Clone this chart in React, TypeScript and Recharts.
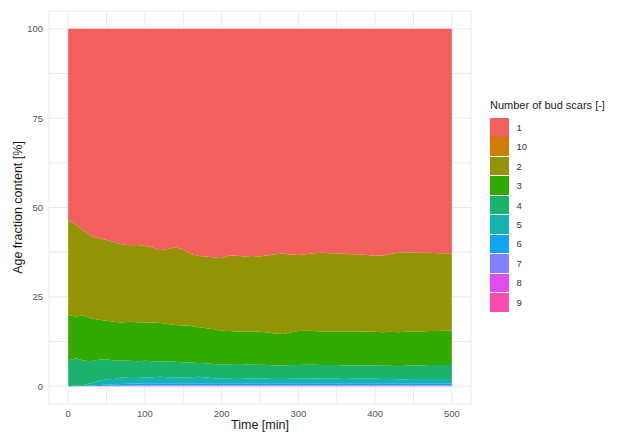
import { AreaChart, Area, XAxis, YAxis, CartesianGrid } from 'recharts';

const times = [
  0, 10, 20, 30, 40, 50, 60, 70, 80, 90, 100, 110, 120, 130, 140, 150, 160, 170, 180, 190, 200,
  210, 220, 230, 240, 250, 260, 270, 280, 290, 300, 310, 320, 330, 340, 350, 360, 370, 380, 390,
  400, 410, 420, 430, 440, 450, 460, 470, 480, 490, 500,
];

// share of cells per bud scar count [%]
const scars1 = [
  53.5, 54.8, 56.5, 58.0, 58.6, 59.1, 59.7, 60.3, 60.6, 60.5, 60.8, 61.2, 62.0, 61.6, 61.1, 61.8, 63.0,
  63.6, 63.7, 64.0, 64.18, 63.38, 63.48, 63.68, 63.58, 63.68, 63.38, 63.08, 62.88, 63.18, 63.28, 63.08,
  62.78, 62.68, 62.78, 62.88, 62.98, 63.08, 63.08, 63.28, 63.48, 63.38, 62.98, 62.68, 62.48, 62.58,
  62.68, 62.68, 62.78, 62.78, 62.78,
];
const scars10 = [
  0, 0, 0, 0, 0, 0, 0, 0, 0, 0, 0, 0, 0, 0, 0, 0, 0, 0, 0, 0, 0.02, 0.02, 0.02, 0.02, 0.02, 0.02, 0.02,
  0.02, 0.02, 0.02, 0.02, 0.02, 0.02, 0.02, 0.02, 0.02, 0.02, 0.02, 0.02, 0.02, 0.02, 0.02, 0.02, 0.02,
  0.02, 0.02, 0.02, 0.02, 0.02, 0.02, 0.02,
];
const scars2 = [
  26.6, 25.7, 23.7, 23.0, 22.8, 22.6, 22.3, 21.9, 21.4, 21.6, 21.4, 21.0, 20.3, 21.0, 21.8, 21.2, 20.2,
  19.9, 20.1, 20.1, 20.3, 21.2, 21.2, 21.1, 21.1, 21.1, 21.6, 22.2, 22.5, 21.8, 21.3, 21.4, 21.8, 22.0,
  22.0, 21.9, 21.7, 21.7, 21.6, 21.4, 21.3, 21.5, 21.8, 22.2, 22.3, 22.1, 22.0, 21.9, 21.8, 21.7, 21.7,
];
const scars3 = [
  12.7, 11.7, 12.6, 12.0, 11.2, 10.8, 10.9, 10.6, 10.9, 10.9, 10.7, 10.8, 10.8, 10.5, 10.3, 10.4, 10.2,
  10.0, 9.8, 9.7, 9.5, 9.3, 9.1, 9.1, 9.3, 9.2, 9.1, 8.9, 8.8, 9.1, 9.5, 9.5, 9.4, 9.4, 9.3, 9.3, 9.5,
  9.4, 9.5, 9.5, 9.4, 9.4, 9.5, 9.5, 9.5, 9.5, 9.5, 9.5, 9.5, 9.6, 9.6,
];
const scars4 = [
  7.2, 7.7, 6.9, 6.2, 5.9, 5.6, 5.1, 4.8, 4.8, 4.7, 4.7, 4.5, 4.3, 4.4, 4.3, 4.2, 4.1, 3.9, 4.0, 4.0,
  3.9, 4.0, 4.2, 4.0, 3.8, 3.8, 3.8, 3.8, 3.8, 3.8, 3.8, 3.8, 3.8, 3.8, 3.8, 3.8, 3.8, 3.7, 3.7, 3.7,
  3.7, 3.7, 3.7, 3.7, 3.8, 3.8, 3.8, 3.9, 3.9, 3.9, 3.9,
];
const scars5 = [
  0, 0.1, 0.25, 0.65, 1.2, 1.5, 1.5, 1.8, 1.6, 1.55, 1.6, 1.7, 1.8, 1.7, 1.7, 1.6, 1.7, 1.8, 1.6, 1.4,
  1.3, 1.3, 1.2, 1.3, 1.4, 1.4, 1.3, 1.2, 1.2, 1.3, 1.3, 1.4, 1.4, 1.3, 1.3, 1.3, 1.2, 1.3, 1.3, 1.3,
  1.3, 1.2, 1.2, 1.1, 1.1, 1.2, 1.2, 1.2, 1.2, 1.2, 1.2,
];
const scars6 = [
  0, 0, 0.05, 0.12, 0.24, 0.32, 0.38, 0.44, 0.5, 0.52, 0.55, 0.55, 0.55, 0.55, 0.55, 0.55, 0.55, 0.55,
  0.55, 0.55, 0.55, 0.55, 0.55, 0.55, 0.55, 0.55, 0.55, 0.55, 0.55, 0.55, 0.55, 0.55, 0.55, 0.55, 0.55,
  0.55, 0.55, 0.55, 0.55, 0.55, 0.55, 0.55, 0.55, 0.55, 0.55, 0.55, 0.55, 0.55, 0.55, 0.55, 0.55,
];
const scars7 = [
  0, 0, 0, 0.03, 0.04, 0.05, 0.07, 0.09, 0.1, 0.11, 0.12, 0.12, 0.12, 0.12, 0.12, 0.12, 0.12, 0.12,
  0.12, 0.12, 0.12, 0.12, 0.12, 0.12, 0.12, 0.12, 0.12, 0.12, 0.12, 0.12, 0.12, 0.12, 0.12, 0.12, 0.12,
  0.12, 0.12, 0.12, 0.12, 0.12, 0.12, 0.12, 0.12, 0.12, 0.12, 0.12, 0.12, 0.12, 0.12, 0.12, 0.12,
];
const scars8 = [
  0, 0, 0, 0, 0.02, 0.03, 0.03, 0.05, 0.06, 0.07, 0.08, 0.08, 0.08, 0.08, 0.08, 0.08, 0.08, 0.08, 0.08,
  0.08, 0.08, 0.08, 0.08, 0.08, 0.08, 0.08, 0.08, 0.08, 0.08, 0.08, 0.08, 0.08, 0.08, 0.08, 0.08, 0.08,
  0.08, 0.08, 0.08, 0.08, 0.08, 0.08, 0.08, 0.08, 0.08, 0.08, 0.08, 0.08, 0.08, 0.08, 0.08,
];
const scars9 = [
  0, 0, 0, 0, 0, 0, 0.02, 0.02, 0.04, 0.05, 0.05, 0.05, 0.05, 0.05, 0.05, 0.05, 0.05, 0.05, 0.05, 0.05,
  0.05, 0.05, 0.05, 0.05, 0.05, 0.05, 0.05, 0.05, 0.05, 0.05, 0.05, 0.05, 0.05, 0.05, 0.05, 0.05, 0.05,
  0.05, 0.05, 0.05, 0.05, 0.05, 0.05, 0.05, 0.05, 0.05, 0.05, 0.05, 0.05, 0.05, 0.05,
];

// legend order (factor levels sorted as text)
const levels = ['1', '10', '2', '3', '4', '5', '6', '7', '8', '9'];
const colors: Record<string, string> = {
  '1': '#F25F5C',
  '10': '#CF7D06',
  '2': '#929405',
  '3': '#33AA03',
  '4': '#1BB26C',
  '5': '#15B2B4',
  '6': '#14A2F2',
  '7': '#8380FE',
  '8': '#DE4DF0',
  '9': '#FB4CB1',
};
const values: Record<string, number[]> = {
  '1': scars1, '10': scars10, '2': scars2, '3': scars3, '4': scars4,
  '5': scars5, '6': scars6, '7': scars7, '8': scars8, '9': scars9,
};

const xTicks = [0, 50, 100, 150, 200, 250, 300, 350, 400, 450, 500];
const yTicks = [0, 12.5, 25, 37.5, 50, 62.5, 75, 87.5, 100];

const data = times.map((t, i) => {
  const row: Record<string, number> = { time: t };
  levels.forEach((l) => (row['s' + l] = values[l][i]));
  return row;
});

// first level sits on top, so stack from the last one up
const stackOrder = ['9', '8', '7', '6', '5', '4', '3', '2', '10', '1'];

const font = '"Liberation Sans", Arial, sans-serif';

export default function App() {
  return (
    <div style={{ position: 'absolute', left: 0, top: 0, width: 622, height: 432, background: '#fff', fontFamily: font }}>
      <AreaChart
        width={622}
        height={432}
        data={data}
        margin={{ top: 11, right: 151, bottom: 0, left: 0 }}
      >
        <CartesianGrid stroke="#EBEBEB" strokeWidth={1} />
        <XAxis
          dataKey="time"
          type="number"
          domain={[-25, 525]}
          ticks={xTicks}
          tickFormatter={(v: number) => (v % 100 === 0 ? String(v) : '')}
          axisLine={false}
          tickLine={false}
          tickSize={4}
          tickMargin={2}
          height={28}
          tick={{ fill: '#555', fontSize: 9.5, fontFamily: font }}
          label={{ value: 'Time [min]', position: 'insideBottom', offset: 3, fill: '#1a1a1a', fontSize: 12.5, fontFamily: font }}
        />
        <YAxis
          type="number"
          domain={[-5, 105]}
          ticks={yTicks}
          tickFormatter={(v: number) => (v % 25 === 0 ? String(v) : '')}
          axisLine={false}
          tickLine={false}
          tickSize={4}
          tickMargin={2}
          width={49}
          tick={{ fill: '#555', fontSize: 9.5, fontFamily: font }}
          label={{
            value: 'Age fraction content [%]',
            angle: -90,
            position: 'insideLeft',
            offset: 18,
            style: { textAnchor: 'middle' },
            fill: '#1a1a1a',
            fontSize: 12.5,
            fontFamily: font,
          }}
        />
        {stackOrder.map((l) => (
          <Area
            key={l}
            type="linear"
            dataKey={'s' + l}
            stackId="a"
            fill={colors[l]}
            fillOpacity={1}
            stroke="none"
            isAnimationActive={false}
          />
        ))}
      </AreaChart>

      {/* legend */}
      <div style={{ position: 'absolute', left: 490, top: 99, fontSize: 11, color: '#1a1a1a', whiteSpace: 'nowrap' }}>
        Number of bud scars [-]
      </div>
      {levels.map((l, i) => (
        <div key={l} style={{ position: 'absolute', left: 490, top: 118 + i * 19.45, height: 18.5, display: 'flex', alignItems: 'center' }}>
          <div style={{ width: 18.5, height: 18.5, background: colors[l] }} />
          <span style={{ marginLeft: 8, fontSize: 9.5, color: '#333' }}>{l}</span>
        </div>
      ))}
    </div>
  );
}
